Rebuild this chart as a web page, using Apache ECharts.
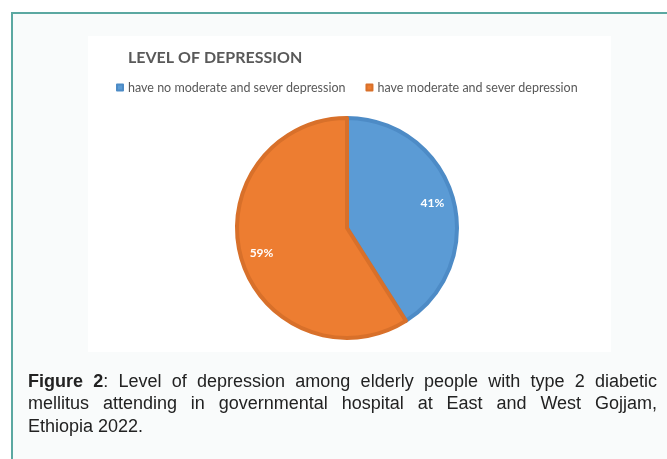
<!DOCTYPE html>
<html>
<head>
<meta charset="utf-8">
<script src="https://cdn.jsdelivr.net/npm/echarts@6/dist/echarts.min.js"></script>
<style>
  html, body { margin: 0; padding: 0; background: #ffffff; }
  #wrap { position: relative; width: 667px; height: 459px; overflow: hidden; }
  #chart { position: absolute; left: 0; top: 0; width: 667px; height: 459px; }
  #caption { position: absolute; left: 28px; width: 629px; top: 369.5px;
    font-family: "Liberation Sans", Arial, sans-serif; font-size: 18px; line-height: 22.5px; color: #222; }
  #caption div { text-align: justify; text-align-last: justify; white-space: nowrap; }
  #caption div.last { text-align-last: left; }
</style>
</head>
<body>
<div id="wrap">
  <div id="chart"></div>
  <div id="caption">
    <div><b>Figure 2</b>: Level of depression among elderly people with type 2 diabetic</div>
    <div>mellitus attending in governmental hospital at East and West Gojjam,</div>
    <div class="last">Ethiopia 2022.</div>
  </div>
</div>
<script>
const titleText = 'LEVEL OF DEPRESSION';
const categories = ['have no moderate and sever depression', 'have moderate and sever depression'];
const values = [41, 59];
const colors = ['#5b9bd5', '#ed7d31'];
const borderColors = ['#4d8bc6', '#d8702a'];

const chart = echarts.init(document.getElementById('chart'));
const pieData = categories.map((c, i) => ({
  name: c, value: values[i],
  itemStyle: { color: colors[i], borderColor: borderColors[i], borderWidth: 4 }
}));
const labelData = categories.map((c, i) => ({ name: c, value: values[i] }));

chart.setOption({
  animation: false,
  graphic: [
    { type: 'rect', shape: { x: 12, y: 13, width: 700, height: 500 },
      style: { fill: '#f9fbfb', stroke: '#5ba8a1', lineWidth: 2 }, z: -10 },
    { type: 'rect', shape: { x: 88, y: 36, width: 523, height: 316 },
      style: { fill: '#ffffff' }, z: -9 }
  ],
  title: {
    text: titleText, left: 128, top: 50, padding: 0,
    textStyle: { fontFamily: 'Lato', fontWeight: 'bold', fontSize: 16, color: '#595959' }
  },
  legend: {
    data: categories, left: 116, top: 81, padding: 0,
    icon: 'rect', itemWidth: 6, itemHeight: 6, itemGap: 20,
    textStyle: { fontFamily: 'Lato', fontSize: 12.5, color: '#595959' }
  },
  series: [
    {
      type: 'pie', center: [347, 228], radius: [0, 110], startAngle: 90, clockwise: true,
      data: pieData, label: { show: false }, labelLine: { show: false }, silent: true
    },
    {
      type: 'pie', center: [347, 228], radius: [62, 110], startAngle: 90, clockwise: true,
      data: labelData, silent: true, legendHoverLink: false,
      itemStyle: { color: 'rgba(0,0,0,0)', borderWidth: 0 },
      label: { show: true, position: 'inside', formatter: '{c}%',
        fontFamily: 'Lato', fontWeight: 'bold', fontSize: 12, color: '#ffffff' },
      labelLine: { show: false }, z: 5
    }
  ]
});
</script>
</body>
</html>
